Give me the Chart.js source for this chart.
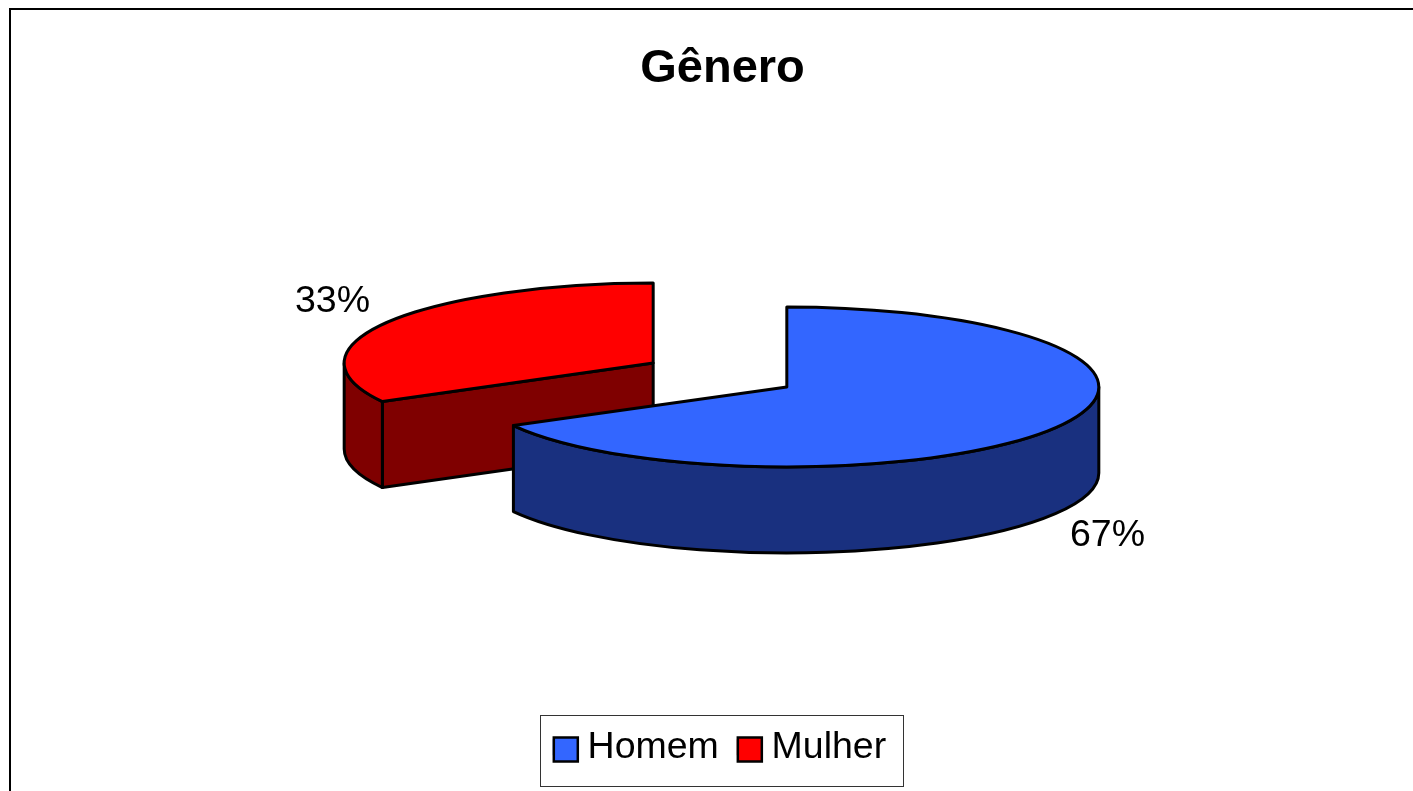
<!DOCTYPE html>
<html>
<head>
<meta charset="utf-8">
<style>html,body{margin:0;padding:0;background:#fff;overflow:hidden}canvas{display:block}</style>
<script src="https://cdn.jsdelivr.net/npm/chart.js@4/dist/chart.umd.min.js"></script>
</head>
<body>
<canvas id="c" width="1413" height="791"></canvas>
<script>
const titleText = 'Gênero';
const categories = ['Homem', 'Mulher'];
const values = [67, 33];
const topColors = ['#3366FF', '#FF0000'];
const sideColors = ['#19307F', '#7F0000'];
const fontFamily = '"Liberation Sans", Arial, sans-serif';

// projection of the flat pie into the tilted view
const view = { cx: 720, cy: 375, rx: 310.5, ry: 80, depth: 86, lift: 1.8, line: 3 };
const sliceRx = [312, 309];
const arcRadius = 200, explode = 50;

function geometry(el) {
  const k = explode / el.outerRadius;
  const mid = (el.startAngle + el.endAngle) / 2;
  const nudge = Math.sign(Math.sin(mid)) * view.lift;
  return {
    mid,
    x: view.cx + Math.cos(mid) * k * view.rx,
    y: view.cy + Math.sin(mid) * k * view.ry + nudge
  };
}

function drawSlice(ctx, el, i) {
  const g = geometry(el);
  const a = el.startAngle, b = el.endAngle;
  const rx = sliceRx[i];
  const { ry, depth, line } = view;
  ctx.save();
  ctx.lineWidth = line;
  ctx.lineJoin = 'round';
  ctx.strokeStyle = '#000';
  ctx.fillStyle = sideColors[i];

  // straight cut walls that face the viewer
  const wall = t => {
    const px = g.x + rx * Math.cos(t), py = g.y + ry * Math.sin(t);
    ctx.beginPath();
    ctx.moveTo(g.x, g.y);
    ctx.lineTo(px, py);
    ctx.lineTo(px, py + depth);
    ctx.lineTo(g.x, g.y + depth);
    ctx.closePath();
    ctx.fill();
    ctx.stroke();
  };
  if (Math.cos(a) < -1e-6) wall(a);
  if (Math.cos(b) > 1e-6) wall(b);

  // curved outer wall: the part of the rim on the near side
  const lo = Math.max(a, 0), hi = Math.min(b, Math.PI);
  if (hi > lo) {
    ctx.beginPath();
    ctx.ellipse(g.x, g.y, rx, ry, 0, lo, hi);
    ctx.ellipse(g.x, g.y + depth, rx, ry, 0, hi, lo, true);
    ctx.closePath();
    ctx.fill();
    ctx.stroke();
  }
  ctx.restore();

  // top face: the library's own arc element, squashed into the view
  ctx.save();
  ctx.translate(g.x, g.y);
  ctx.scale(rx / el.outerRadius, ry / el.outerRadius);
  ctx.translate(-el.x, -el.y);
  el.draw(ctx);
  ctx.restore();

  ctx.save();
  ctx.lineWidth = line;
  ctx.lineJoin = 'round';
  ctx.strokeStyle = '#000';
  ctx.beginPath();
  ctx.moveTo(g.x, g.y);
  ctx.ellipse(g.x, g.y, rx, ry, 0, a, b);
  ctx.closePath();
  ctx.stroke();
  ctx.restore();
}

const pie3d = {
  id: 'pie3d',
  afterLayout(chart) {
    const shift = 3;
    chart.legend.left -= shift;
    chart.legend.right -= shift;
    chart.legend.legendHitBoxes.forEach(h => { h.left -= shift; });
  },
  beforeDraw(chart) {
    const ctx = chart.ctx;
    ctx.save();
    ctx.fillStyle = '#fff';
    ctx.fillRect(0, 0, chart.width, chart.height);
    ctx.strokeStyle = '#000';
    ctx.lineWidth = 2;
    ctx.strokeRect(10, 9, chart.width + 20, chart.height + 20);
    ctx.restore();
  },
  beforeDatasetsDraw(chart) {
    const ctx = chart.ctx;
    const arcs = chart.getDatasetMeta(0).data;
    const total = values.reduce((p, v) => p + v, 0);
    [1, 0].forEach(i => drawSlice(ctx, arcs[i], i));
    ctx.save();
    ctx.fillStyle = '#000';
    ctx.font = '37.5px ' + fontFamily;
    ctx.textAlign = 'center';
    ctx.textBaseline = 'middle';
    arcs.forEach((el, i) => {
      const g = geometry(el);
      const lx = g.x + Math.cos(g.mid) * view.rx * 1.2;
      const ly = g.y + Math.sin(g.mid) * view.ry * 1.5 + (Math.sin(g.mid) > 0 ? view.depth + 2 : 0);
      ctx.fillText(Math.round(values[i] / total * 100) + '%', lx, ly);
    });
    ctx.restore();
    return false;
  },
  afterDraw(chart) {
    const ctx = chart.ctx;
    const hits = chart.legend.legendHitBoxes;
    const first = hits[0];
    ctx.save();
    ctx.strokeStyle = '#333';
    ctx.lineWidth = 1;
    ctx.strokeRect(Math.round(first.left - 13) + 0.5, Math.round(first.top - 14) + 0.5, 363, 71);
    hits.forEach((h, i) => {
      ctx.fillStyle = topColors[i];
      ctx.strokeStyle = '#000';
      ctx.lineWidth = 2.5;
      ctx.fillRect(h.left + 1, h.top + 9, 24, 24);
      ctx.strokeRect(h.left + 1, h.top + 9, 24, 24);
    });
    ctx.restore();
  }
};

new Chart(document.getElementById('c'), {
  type: 'pie',
  data: {
    labels: categories,
    datasets: [{
      data: values,
      backgroundColor: topColors,
      borderColor: '#000',
      borderWidth: 0
    }]
  },
  options: {
    responsive: false,
    animation: false,
    radius: arcRadius,
    rotation: 0,
    layout: { padding: { left: 32, right: 0, top: 0, bottom: 15 } },
    plugins: {
      tooltip: { enabled: false },
      title: {
        display: true,
        text: titleText,
        color: '#000',
        font: { family: fontFamily, size: 47, weight: 'bold' },
        padding: { top: 41, bottom: 20 }
      },
      legend: {
        position: 'bottom',
        labels: {
          color: '#000',
          boxWidth: 16,
          boxHeight: 16,
          padding: 18,
          font: { family: fontFamily, size: 37.5 }
        }
      }
    }
  },
  plugins: [pie3d]
});
</script>
</body>
</html>
